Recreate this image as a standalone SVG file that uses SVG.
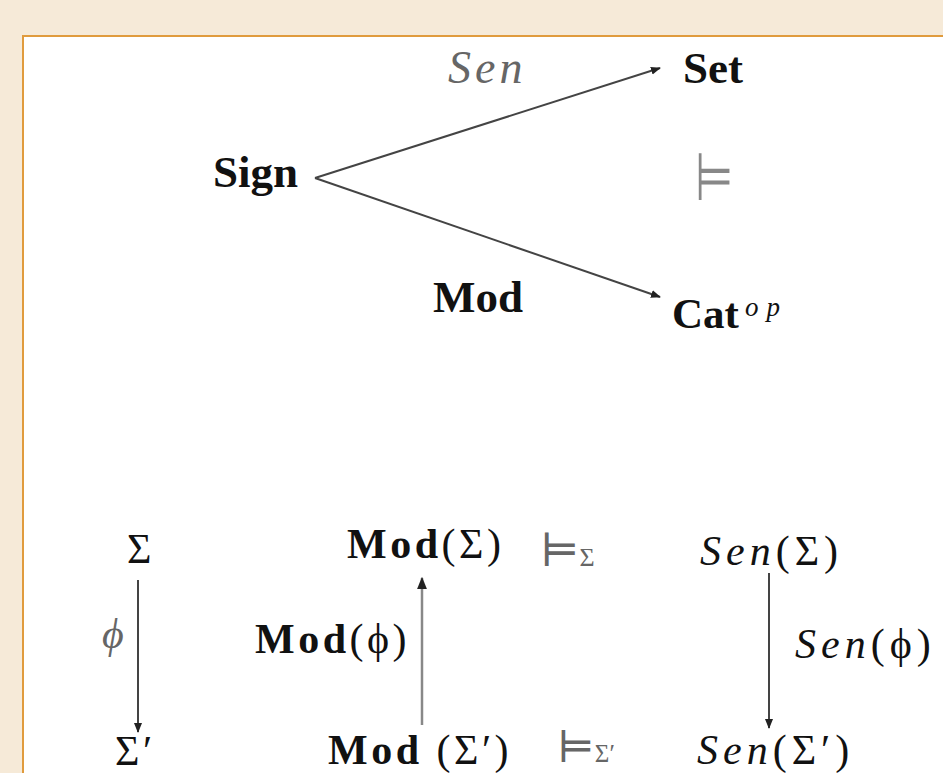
<svg xmlns="http://www.w3.org/2000/svg" width="943" height="773" viewBox="0 0 943 773">
<style>
text{font-family:"Liberation Serif","DejaVu Serif",serif;fill:#111}
.b{font-weight:bold}
.i{font-style:italic}
.g{fill:#666}
.big{font-size:45px}
.sm{font-size:42px}
.sp{letter-spacing:3.5px}
.si{letter-spacing:5px}
.conn line{stroke:#444;stroke-width:2}
</style>
<defs>
<marker id="ah" viewBox="0 0 10 10" refX="9" refY="5" markerWidth="5" markerHeight="5" orient="auto" markerUnits="strokeWidth">
<path d="M0,1 L10,5 L0,9 z" fill="#222"/>
</marker>
</defs>
<rect x="0" y="0" width="943" height="773" fill="#f6ead8"/>
<rect x="23" y="36" width="940" height="760" fill="#fff" stroke="#e09b3d" stroke-width="2"/>

<g class="conn">
<line x1="315" y1="178" x2="660" y2="68" marker-end="url(#ah)"/>
<line x1="315" y1="178" x2="660" y2="297" marker-end="url(#ah)"/>
<line x1="138" y1="580" x2="138" y2="732" marker-end="url(#ah)"/>
<line x1="422" y1="725" x2="422" y2="578" marker-end="url(#ah)" style="stroke:#888;stroke-width:2.5"/>
<line x1="769" y1="573" x2="769" y2="728" marker-end="url(#ah)"/>
</g>

<g id="sign"><text class="b big" x="213" y="187">Sign</text></g>
<g id="set"><text class="b big" x="683" y="83">Set</text></g>
<g id="cat"><text class="b" x="672" y="328" font-size="43">Cat</text><text class="i" x="745" y="316" font-size="27" letter-spacing="8">op</text></g>
<g id="lbl-sen"><text class="i g" x="448" y="83" font-size="46" letter-spacing="4">Sen</text></g>
<g id="lbl-mod"><text class="b big" x="433" y="312">Mod</text></g>
<g id="models"><text x="0" y="0" font-size="46" style="font-family:'DejaVu Sans',sans-serif;fill:#888" transform="translate(695,200) scale(0.95,1.45)">⊨</text></g>

<g id="sigma"><text class="sm" x="127" y="563">Σ</text></g>
<g id="sigma2"><text class="sm sp" x="115" y="765">Σ′</text></g>
<g id="lbl-phi"><text class="i sm g" x="102" y="648">ϕ</text></g>
<g id="modsigma"><text class="sm sp" x="347" y="558"><tspan class="b">Mod</tspan>(Σ)</text></g>
<g id="lbl-modphi"><text class="sm sp" x="255" y="653"><tspan class="b">Mod</tspan>(ϕ)</text></g>
<g id="modsigma2"><text class="sm sp" x="328" y="764"><tspan class="b">Mod</tspan> (Σ′)</text></g>
<g id="sat"><text class="g" x="540" y="566" font-size="46">⊨<tspan font-size="26">Σ</tspan></text></g>
<g id="sat2"><text class="g" x="557" y="762" font-size="44">⊨<tspan font-size="25">Σ′</tspan></text></g>
<g id="sensigma"><text class="sm si" x="700" y="565"><tspan class="i">Sen</tspan>(Σ)</text></g>
<g id="lbl-senphi"><text class="sm si" x="795" y="658"><tspan class="i">Sen</tspan>(ϕ)</text></g>
<g id="sensigma2"><text class="sm si" x="697" y="764"><tspan class="i">Sen</tspan>(Σ′)</text></g>
</svg>
